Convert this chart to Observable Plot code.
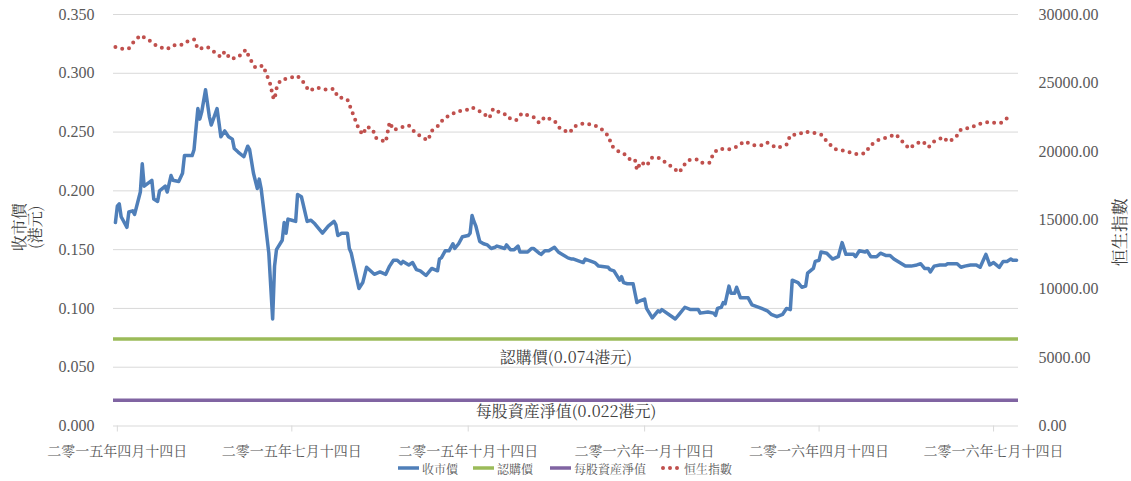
<!DOCTYPE html>
<html><head><meta charset="utf-8">
<script src="https://cdn.jsdelivr.net/npm/d3@7"></script>
<script src="https://cdn.jsdelivr.net/npm/@observablehq/plot@0.6"></script>
<style>
body{margin:0;background:#fff;}
#legend{position:relative;height:21px;width:1131px;font-size:12px;color:#595959;font-family:"Noto Serif CJK TC";}
#legend .item{position:absolute;top:0;height:16px;display:flex;align-items:center;white-space:nowrap;}
#legend svg{display:block;margin-right:3px;}
</style></head><body>
<div id="chart"></div>
<div id="legend"></div>
<script>
// ---- data ----
const closeDates = [
"2015-04-13","2015-04-14","2015-04-15","2015-04-16","2015-04-19","2015-04-20","2015-04-22","2015-04-23","2015-04-26","2015-04-27","2015-04-28",
"2015-05-02","2015-05-03","2015-05-05","2015-05-06","2015-05-09","2015-05-10","2015-05-12","2015-05-13","2015-05-16","2015-05-18","2015-05-19","2015-05-23","2015-05-24","2015-05-26","2015-05-27","2015-05-28","2015-05-30",
"2015-06-01","2015-06-02","2015-06-05","2015-06-07","2015-06-09","2015-06-11","2015-06-13","2015-06-14","2015-06-16","2015-06-19","2015-06-21","2015-06-22","2015-06-24","2015-06-26","2015-06-27","2015-06-28","2015-06-30",
"2015-07-02","2015-07-03","2015-07-04","2015-07-05","2015-07-06","2015-07-09","2015-07-10","2015-07-11","2015-07-12","2015-07-14","2015-07-16","2015-07-17","2015-07-19","2015-07-22","2015-07-24","2015-07-26","2015-07-30",
"2015-08-02","2015-08-05","2015-08-06","2015-08-07","2015-08-09","2015-08-12","2015-08-13","2015-08-14","2015-08-18","2015-08-20","2015-08-22","2015-08-26","2015-08-29",
"2015-09-01","2015-09-03","2015-09-05","2015-09-07","2015-09-09","2015-09-10","2015-09-13","2015-09-15","2015-09-17","2015-09-19","2015-09-22","2015-09-25","2015-09-28","2015-09-29","2015-09-30",
"2015-10-02","2015-10-04","2015-10-06","2015-10-07","2015-10-09","2015-10-11","2015-10-14","2015-10-15","2015-10-16","2015-10-17","2015-10-18","2015-10-20","2015-10-22","2015-10-24","2015-10-26","2015-10-28","2015-10-29","2015-10-31",
"2015-11-02","2015-11-03","2015-11-05","2015-11-07","2015-11-09","2015-11-10","2015-11-12","2015-11-14","2015-11-16","2015-11-17","2015-11-20","2015-11-21","2015-11-23","2015-11-25","2015-11-28","2015-11-30",
"2015-12-01","2015-12-05","2015-12-07","2015-12-08","2015-12-13","2015-12-14","2015-12-19","2015-12-21","2015-12-26","2015-12-27","2015-12-29",
"2016-01-01","2016-01-02","2016-01-03","2016-01-05","2016-01-08","2016-01-10","2016-01-11","2016-01-14","2016-01-15","2016-01-18","2016-01-21","2016-01-22","2016-01-23","2016-01-30",
"2016-02-01","2016-02-04","2016-02-07","2016-02-11","2016-02-12","2016-02-16","2016-02-19","2016-02-20","2016-02-21","2016-02-23","2016-02-24","2016-02-25","2016-02-27","2016-02-28",
"2016-03-01","2016-03-02","2016-03-04","2016-03-08","2016-03-10","2016-03-15","2016-03-18","2016-03-20","2016-03-23","2016-03-26","2016-03-28","2016-03-30","2016-03-31",
"2016-04-03","2016-04-05","2016-04-07","2016-04-08","2016-04-11","2016-04-12","2016-04-14","2016-04-15","2016-04-18","2016-04-21","2016-04-24","2016-04-26","2016-04-28",
"2016-05-02","2016-05-03","2016-05-05","2016-05-08","2016-05-09","2016-05-11","2016-05-14","2016-05-16","2016-05-19","2016-05-21","2016-05-23","2016-05-26","2016-05-29",
"2016-06-01","2016-06-04","2016-06-06","2016-06-08","2016-06-10","2016-06-11","2016-06-13","2016-06-16","2016-06-19","2016-06-20","2016-06-25","2016-06-27","2016-06-29",
"2016-07-02","2016-07-05","2016-07-07","2016-07-10","2016-07-12","2016-07-14","2016-07-17","2016-07-19","2016-07-21","2016-07-23","2016-07-24","2016-07-26"
];
const closeValues = [
0.173,0.187,0.189,0.178,0.169,0.182,0.183,0.180,0.199,0.223,0.204,
0.209,0.193,0.191,0.200,0.204,0.199,0.213,0.209,0.208,0.215,0.230,0.230,0.235,0.270,0.261,0.267,0.286,
0.263,0.256,0.270,0.246,0.251,0.246,0.244,0.236,0.233,0.229,0.238,0.235,0.215,0.202,0.210,0.202,0.175,
0.147,0.119,0.091,0.136,0.150,0.158,0.173,0.164,0.176,0.175,0.174,0.197,0.195,0.174,0.175,0.172,0.164,
0.170,0.174,0.171,0.162,0.164,0.164,0.151,0.147,0.117,0.122,0.135,0.129,0.131,
0.129,0.136,0.141,0.141,0.138,0.140,0.137,0.139,0.133,0.132,0.128,0.134,0.132,0.142,0.143,
0.149,0.149,0.155,0.151,0.155,0.161,0.162,0.164,0.179,0.174,0.170,0.157,0.155,0.154,0.151,0.152,0.153,0.152,
0.151,0.154,0.150,0.150,0.153,0.148,0.148,0.148,0.151,0.151,0.147,0.146,0.149,0.149,0.152,0.148,
0.147,0.143,0.142,0.142,0.139,0.142,0.139,0.136,0.135,0.133,0.132,
0.124,0.127,0.122,0.121,0.121,0.105,0.106,0.108,0.100,0.092,0.098,0.097,0.099,0.091,
0.095,0.101,0.099,0.099,0.096,0.097,0.096,0.094,0.100,0.101,0.105,0.104,0.119,0.113,
0.113,0.118,0.109,0.109,0.103,0.100,0.098,0.095,0.093,0.095,0.100,0.099,0.124,
0.122,0.118,0.119,0.130,0.134,0.140,0.141,0.148,0.147,0.142,0.144,0.156,0.146,
0.146,0.144,0.149,0.148,0.149,0.144,0.144,0.147,0.145,0.145,0.142,0.139,0.136,
0.136,0.137,0.138,0.134,0.134,0.131,0.136,0.137,0.137,0.138,0.138,0.135,0.136,
0.137,0.137,0.135,0.146,0.137,0.139,0.135,0.140,0.140,0.142,0.141,0.141
];
const hsiDates = [
"2015-04-13","2015-04-17","2015-04-20","2015-04-22","2015-04-26","2015-04-30","2015-05-04","2015-05-06","2015-05-10","2015-05-13","2015-05-17","2015-05-20","2015-05-24","2015-05-26","2015-05-31",
"2015-06-03","2015-06-07","2015-06-09","2015-06-12","2015-06-16","2015-06-20","2015-06-22","2015-06-25","2015-06-29",
"2015-07-01","2015-07-03","2015-07-04","2015-07-05","2015-07-06","2015-07-08","2015-07-13","2015-07-17","2015-07-20","2015-07-23","2015-07-27","2015-07-31",
"2015-08-05","2015-08-07","2015-08-12","2015-08-14","2015-08-16","2015-08-18","2015-08-20","2015-08-22","2015-08-25","2015-08-27",
"2015-09-01","2015-09-02","2015-09-03","2015-09-05","2015-09-09","2015-09-13","2015-09-16","2015-09-20","2015-09-23","2015-09-25","2015-09-29",
"2015-10-01","2015-10-05","2015-10-08","2015-10-13","2015-10-16","2015-10-21","2015-10-25","2015-10-27",
"2015-11-01","2015-11-03","2015-11-05","2015-11-08","2015-11-11","2015-11-17","2015-11-20","2015-11-23","2015-11-28",
"2015-12-01","2015-12-06","2015-12-08","2015-12-13","2015-12-18","2015-12-22","2015-12-26","2015-12-28","2015-12-31",
"2016-01-03","2016-01-07","2016-01-09","2016-01-10","2016-01-12","2016-01-15","2016-01-18","2016-01-22","2016-01-24","2016-01-28",
"2016-02-01","2016-02-04","2016-02-06","2016-02-11","2016-02-13","2016-02-17","2016-02-19","2016-02-22","2016-02-27",
"2016-03-02","2016-03-06","2016-03-11","2016-03-16","2016-03-18","2016-03-23","2016-03-28","2016-03-30",
"2016-04-04","2016-04-06","2016-04-10","2016-04-15","2016-04-18","2016-04-22","2016-04-26",
"2016-05-01","2016-05-04","2016-05-08","2016-05-11","2016-05-15","2016-05-20","2016-05-24","2016-05-28","2016-05-31",
"2016-06-03","2016-06-07","2016-06-10","2016-06-13","2016-06-18","2016-06-20","2016-06-24","2016-06-27",
"2016-07-02","2016-07-06","2016-07-11","2016-07-15","2016-07-18","2016-07-22"
];
const hsiValues = [
27625,27480,27530,27915,28475,28185,27770,27625,27480,27750,27750,28015,28185,27480,27625,
27335,26900,27290,26755,26877,27435,26805,26130,26275,
25570,24840,24045,23805,24600,25205,25375,25520,25060,24430,24675,24530,
24575,23990,23805,23080,22350,21625,21235,21815,21670,20990,
20700,21430,22155,21575,21770,21915,21430,21045,20825,21525,21960,
22395,22685,22930,23025,23225,22880,22445,23120,
22735,22735,22395,22300,22790,22540,22105,22540,22250,
21670,21380,21815,22060,21960,21720,21160,20410,20050,
19880,19345,19395,18670,19250,18960,19590,19520,19300,18910,
18475,19105,19395,19445,19200,19200,19925,20215,20170,
20360,20755,20465,20465,20650,20265,20505,21190,
21285,21460,21405,21260,20755,20195,20100,
19925,19810,19880,20485,20850,21065,21260,20650,20215,
20560,20755,20320,20755,21065,20725,20970,21625,
21740,22010,22155,22105,22105,22540
];
const subscriptionPrice = 0.074;
const navPerShare = 0.022;
const seriesNames = ["收市價","認購價","每股資産淨值","恒生指數"];
const subscriptionLabel = "認購價(0.074港元)";
const navLabel = "每股資産淨值(0.022港元)";
const leftTitle = "收市價\n(港元)";
const rightTitle = "恒生指數";
const leftTicks = [0,0.05,0.10,0.15,0.20,0.25,0.30,0.35];
const rightTicks = [0,5000,10000,15000,20000,25000,30000];
const xDomain = ["2015-04-12","2016-07-27"];
const xTickDates = ["2015-04-14","2015-07-14","2015-10-14","2016-01-14","2016-04-14","2016-07-14"];
const xTickLabels = ["二零一五年四月十四日","二零一五年七月十四日","二零一五年十月十四日","二零一六年一月十四日","二零一六年四月十四日","二零一六年七月十四日"];

// ---- build ----
const LATIN = "Liberation Serif";
const CJK = "Noto Serif CJK TC";
const COLORS = {close:"#4F7FB9", sub:"#9BBB59", nav:"#8064A2", hsi:"#C0504D"};
const yMax = 0.35, hsiMax = 30000;
const toLeft = h => h / hsiMax * yMax;
const closeData = closeDates.map((d,i)=>({date:new Date(d), value:closeValues[i]}));
const hsiData = hsiDates.map((d,i)=>({date:new Date(d), value:toLeft(hsiValues[i])}));
const xLabelMap = new Map(xTickDates.map((d,i)=>[+new Date(d), xTickLabels[i]]));

const chart = Plot.plot({
  width:1131, height:460,
  marginLeft:113, marginRight:113, marginTop:14, marginBottom:34.5,
  style:{fontSize:"16px", color:"#595959", background:"#fff", overflow:"visible"},
  x:{type:"utc", domain:xDomain.map(d=>new Date(d))},
  y:{domain:[0,yMax]},
  marks:[
    Plot.gridY(leftTicks,{stroke:"#d9d9d9", strokeOpacity:1, strokeWidth:1}),
    Plot.axisY(leftTicks,{anchor:"left", tickSize:0, tickPadding:19, tickFormat:d3.format(".3f"), label:null, fontSize:16, fontFamily:LATIN}),
    Plot.axisY(rightTicks.map(toLeft),{anchor:"right", tickSize:0, tickPadding:20, tickFormat:d=>(d/yMax*hsiMax).toFixed(2), label:null, fontSize:16, fontFamily:LATIN}),
    Plot.axisX(xTickDates.map(d=>new Date(d)),{tickSize:6, tickPadding:14, stroke:"#d9d9d9", tickFormat:d=>xLabelMap.get(+d), label:null, fontSize:14, fontFamily:CJK}),
    Plot.ruleY([subscriptionPrice],{stroke:COLORS.sub, strokeWidth:3.5}),
    Plot.ruleY([navPerShare],{stroke:COLORS.nav, strokeWidth:3.5}),
    Plot.text([subscriptionLabel],{frameAnchor:"middle", y:()=>subscriptionPrice, dy:19, fontSize:16, fill:"#404040", fontFamily:CJK}),
    Plot.text([navLabel],{frameAnchor:"middle", y:()=>navPerShare, dy:12, fontSize:16, fill:"#404040", fontFamily:CJK}),
    Plot.line(closeData,{x:"date", y:"value", stroke:COLORS.close, strokeWidth:3.5, strokeLinejoin:"round"}),
    Plot.line(hsiData,{x:"date", y:"value", stroke:COLORS.hsi, strokeWidth:4, strokeDasharray:"0 7", strokeLinecap:"round"}),
    Plot.text([leftTitle],{frameAnchor:"left", textAnchor:"middle", lineAnchor:"middle", dx:-86, dy:7, rotate:-90, lineHeight:1, fontSize:16, fill:"#404040", fontFamily:CJK}),
    Plot.text([rightTitle],{frameAnchor:"right", textAnchor:"middle", lineAnchor:"middle", dx:102, dy:12, rotate:-90, fontSize:17, fill:"#404040", fontFamily:CJK})
  ]
});
document.getElementById("chart").appendChild(chart);

// ---- legend (HTML below the svg) ----
const legend = document.getElementById("legend");
const legendLeft = [398, 473, 550, 661];
const swatch = (i) => {
  if (i === 3) return `<svg width="20" height="8"><line x1="2" y1="4" x2="19" y2="4" stroke="${COLORS.hsi}" stroke-width="4" stroke-dasharray="0 7" stroke-linecap="round"/></svg>`;
  const c = [COLORS.close, COLORS.sub, COLORS.nav][i];
  return `<svg width="21" height="8"><line x1="0" y1="4" x2="21" y2="4" stroke="${c}" stroke-width="3.5"/></svg>`;
};
seriesNames.forEach((name,i)=>{
  const div = document.createElement("div");
  div.className = "item";
  div.style.left = legendLeft[i] + "px";
  div.innerHTML = swatch(i) + `<span>${name}</span>`;
  legend.appendChild(div);
});
</script>
</body></html>
